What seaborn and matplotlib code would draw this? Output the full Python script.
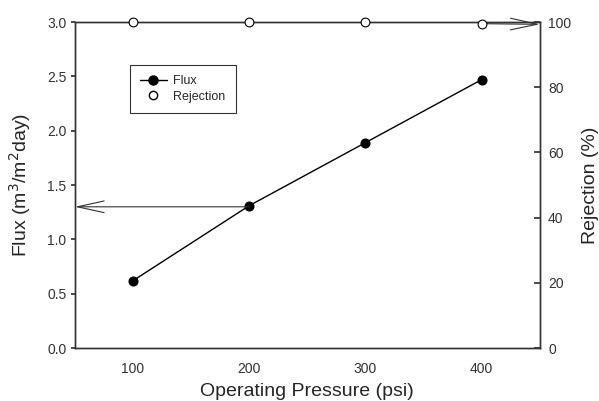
import matplotlib
matplotlib.use("Agg")
import matplotlib.pyplot as plt
import seaborn as sns
import pandas as pd
from matplotlib.lines import Line2D

pressure = [100, 200, 300, 400]
flux = [0.62, 1.31, 1.89, 2.47]
rejection = [99.9, 100.1, 99.9, 99.5]
flux_ticks = [0.0, 0.5, 1.0, 1.5, 2.0, 2.5, 3.0]
rej_ticks = [0, 20, 40, 60, 80, 100]
x_ticks = [100, 200, 300, 400]

sns.set_theme(style="white")
plt.rcParams['font.family'] = ['Liberation Sans', 'DejaVu Sans']

df = pd.DataFrame({"pressure": pressure, "flux": flux, "rejection": rejection})

fig = plt.figure(figsize=(5.99, 4.01), dpi=100)
ax = fig.add_axes([0.125, 0.132, 0.776, 0.813])
ax2 = ax.twinx()

sns.lineplot(data=df, x="pressure", y="flux", ax=ax, color="black", marker="o",
             markersize=6.5, markeredgecolor="black", linewidth=1.0, legend=False)
sns.scatterplot(data=df, x="pressure", y="rejection", ax=ax2, marker="o",
                facecolor="white", edgecolor="black", linewidth=0.8, s=40,
                legend=False, zorder=5)
for coll in ax2.collections:
    coll.set_clip_on(False)

ax.set_xlim(50, 450)
ax.set_ylim(0, 3.0)
ax2.set_ylim(0, 100)
ax.set_xticks(x_ticks)
ax.set_yticks(flux_ticks)
ax.set_yticklabels([f"{v:.1f}" for v in flux_ticks])
ax2.set_yticks(rej_ticks)

for a in (ax, ax2):
    for s in a.spines.values():
        s.set_color("#333333")
        s.set_linewidth(1.0)

ax.tick_params(axis="x", direction="in", length=4, labelsize=10, colors="#333333", pad=10)
ax.tick_params(axis="y", direction="out", length=3, labelsize=10, colors="#333333", pad=3)
ax2.tick_params(axis="y", direction="in", length=4, labelsize=10, colors="#333333", pad=6)

ax.set_xlabel("Operating Pressure (psi)", fontsize=14, labelpad=5)
ax.set_ylabel("Flux (m$^3$/m$^2$day)", fontsize=14, labelpad=10)
ax2.set_ylabel("Rejection (%)", fontsize=14, rotation=90, labelpad=8)

# arrows
ax.annotate("", xy=(50, 1.3), xytext=(200, 1.3),
            arrowprops=dict(arrowstyle="->,head_length=1.6,head_width=0.35",
                            color="#333333", lw=0.8, shrinkA=0, shrinkB=0))
ax2.annotate("", xy=(450, 99.3), xytext=(400, 99.5),
             arrowprops=dict(arrowstyle="->,head_length=1.6,head_width=0.35",
                             color="#333333", lw=0.8, shrinkA=3, shrinkB=0))

handles = [
    Line2D([], [], color="black", marker="o", markersize=6.5, lw=1.0, label="Flux"),
    Line2D([], [], color="none", marker="o", markerfacecolor="white",
           markeredgecolor="black", markersize=6, label="Rejection"),
]
leg = ax.legend(handles=handles, loc="upper left", bbox_to_anchor=(0.118, 0.868),
                frameon=True, fancybox=False, fontsize=9, handlelength=2.2,
                borderpad=0.8, labelspacing=0.3, handletextpad=0.5, borderaxespad=0)
leg.get_frame().set_edgecolor("black")
leg.get_frame().set_linewidth(0.8)

fig.savefig("out.png", dpi=100)
